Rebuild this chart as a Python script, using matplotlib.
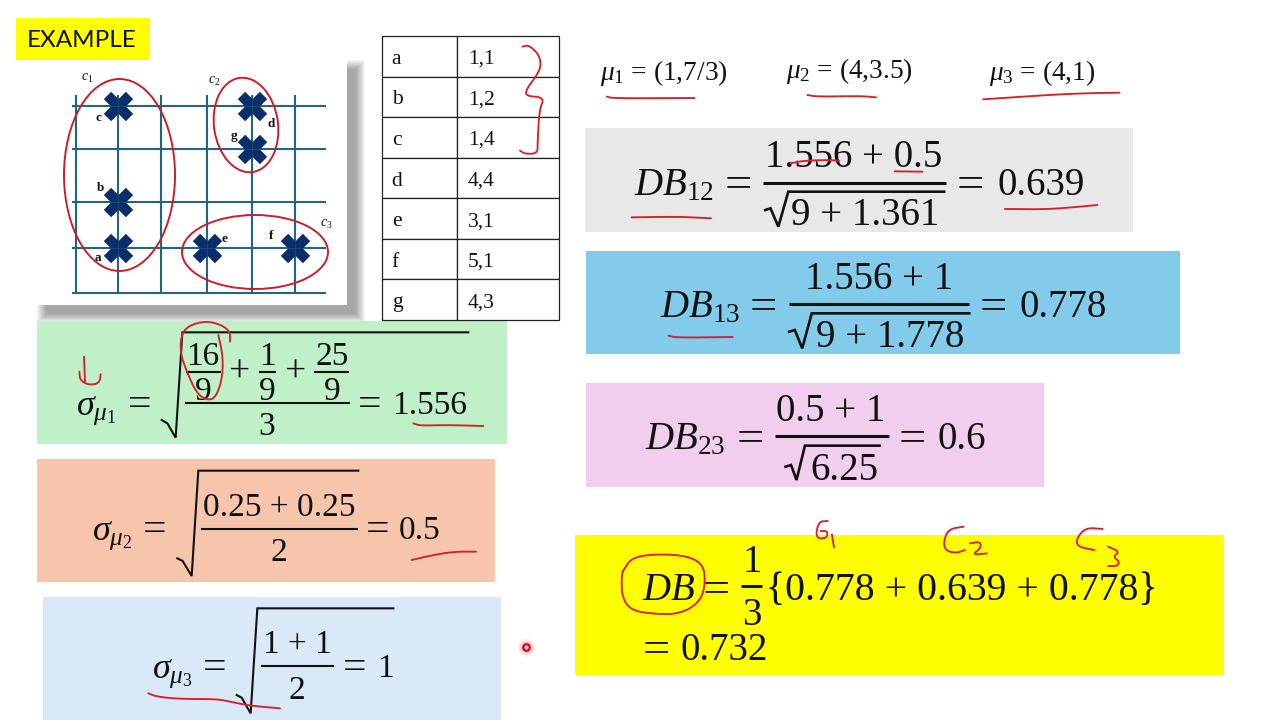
import numpy as np
import matplotlib
matplotlib.use("Agg")
import matplotlib.pyplot as plt
from matplotlib.patches import Rectangle, Ellipse
from matplotlib.transforms import Affine2D

# ---------- data ----------
point_names = ["a", "b", "c", "d", "e", "f", "g"]
point_x = [1, 1, 1, 4, 3, 5, 4]
point_y = [1, 2, 4, 4, 1, 1, 3]
table_coords = ["1,1", "1,2", "1,4", "4,4", "3,1", "5,1", "4,3"]
grid_x = [0, 1, 2, 3, 4, 5]
grid_y = [0, 1, 2, 3, 4]
cluster_labels = ["$c_1$", "$c_2$", "$c_3$"]
sigma_values = ["1.556", "0.5", "1"]
db_12 = "0.639"
db_13 = "0.778"
db_23 = "0.6"
db_total = "0.732"
mean_labels = [r"$\mu_1$ = (1,7/3)", r"$\mu_2$ = (4,3.5)", r"$\mu_3$ = (4,1)"]

# ---------- style ----------
plt.rcParams["font.family"] = ["Liberation Serif", "DejaVu Sans"]
plt.rcParams["mathtext.fontset"] = "custom"
plt.rcParams["mathtext.rm"] = "Liberation Serif"
plt.rcParams["mathtext.it"] = "Liberation Serif:italic"
plt.rcParams["mathtext.bf"] = "Liberation Serif:bold"
plt.rcParams["mathtext.fallback"] = "stix"

INK = "#D8202A"
TXT = "#111111"
W, H = 1280, 720

fig = plt.figure(figsize=(W / 100, H / 100), dpi=100, facecolor="white")


def px_axes(z, transparent=False):
    a = fig.add_axes([0, 0, 1, 1], zorder=z)
    a.set_xlim(0, W)
    a.set_ylim(H, 0)
    a.axis("off")
    if transparent:
        a.patch.set_alpha(0)
    return a


def place_axes(x0, y0, x1, y1, z):
    return fig.add_axes([x0 / W, 1 - y1 / H, (x1 - x0) / W, (y1 - y0) / H], zorder=z)


back = px_axes(0)
top = px_axes(5, True)

# card shadow (right and bottom only)
for i in range(10):
    p = 9 - i
    back.add_patch(Rectangle((37 + 9 - p, 60 + 9 - p), 310 + 2 * p, 245 + 2 * p,
                             fc="#000000", ec="none", alpha=0.04))

# coloured panels: x0, y0, x1, y1, colour
panels = [
    (16, 18, 150, 60, "#FFFF00"),
    (37, 321, 507, 444, "#C0F0C7"),
    (37, 459, 495, 582, "#F6C5AC"),
    (43, 597, 501, 720, "#DAE9F8"),
    (585, 128, 1133, 232, "#E8E8E8"),
    (586, 251, 1180, 354, "#83CBEB"),
    (586, 383, 1044, 487, "#F1CEEE"),
    (575, 535, 1224, 675, "#FFFF00"),
]
for x0, y0, x1, y1, c in panels:
    back.add_patch(Rectangle((x0, y0), x1 - x0, y1 - y0, fc=c, ec="none"))

back.text(27, 47, "EXAMPLE", family="Lato", fontsize=17.5, color=TXT, va="baseline", ha="left")

# ---------- scatter panel ----------
card = place_axes(37, 60, 347, 305, 2)
x_knots_d = [-0.92, 0, 1, 2, 3, 4, 5, 6.2]
x_knots_p = [0, 39, 81, 124, 170, 215, 258, 310]
y_knots_d = [-0.27, 0, 1, 2, 3, 4, 5.0]
y_knots_p = [0, 12, 57, 103, 156, 199, 245]
card.set_xscale("function", functions=(lambda v: np.interp(v, x_knots_d, x_knots_p),
                                       lambda v: np.interp(v, x_knots_p, x_knots_d)))
card.set_yscale("function", functions=(lambda v: np.interp(v, y_knots_d, y_knots_p),
                                       lambda v: np.interp(v, y_knots_p, y_knots_d)))
card.set_xlim(x_knots_d[0], x_knots_d[-1])
card.set_ylim(y_knots_d[0], y_knots_d[-1])
card.axis("off")
card.add_patch(Rectangle((0, 0), 1, 1, transform=card.transAxes, fc="white", ec="none", zorder=0))
GRID = "#1F6685"
for gx in grid_x:
    card.plot([gx, gx], [0, 4.25], color=GRID, lw=1.5, zorder=1, solid_capstyle="butt")
for gy in grid_y:
    card.plot([-0.1, 5.72], [gy, gy], color=GRID, lw=1.5, zorder=1, solid_capstyle="butt")
card.scatter(point_x, point_y, marker="X", s=450, color="#0B2E6B", linewidths=0, zorder=2)
card.scatter(point_x, point_y, marker="+", s=200, color=GRID, linewidths=0.6, alpha=0.5, zorder=3)
label_offsets = [(-20, -10), (-18, 14), (-20, -12), (19, -18), (18, 9), (-24, 12), (-18, 13)]
for n, x, y, off in zip(point_names, point_x, point_y, label_offsets):
    card.annotate(n, (x, y), xytext=(off[0] / 1.39, off[1] / 1.39), textcoords="offset points",
                  ha="center", va="center", fontsize=9.5, fontweight="bold", color=TXT, zorder=4)

# ---------- coordinates table ----------
tab_ax = place_axes(382, 36, 559, 320, 2)
tab_ax.axis("off")
tbl = tab_ax.table(cellText=[[n, c] for n, c in zip(point_names, table_coords)],
                   colWidths=[75 / 177, 102 / 177], bbox=[0, 0, 1, 1], cellLoc="left")
tbl.auto_set_font_size(False)
tbl.set_fontsize(15.5)
for (r, c), cell in tbl.get_celld().items():
    cell.set_linewidth(0.9)
    cell.set_edgecolor("#222222")
    cell.PAD = 0.13 if c == 0 else 0.105
    cell.get_text().set_color(TXT)
    cell.get_text().set_transform(Affine2D().translate(0, -3))


# ---------- equation helpers ----------
def t(x, y, s, fs, ha="center"):
    back.text(x, y + fs * 0.07, s, fontsize=fs, ha=ha, va="baseline", color=TXT)


def eq(x, y, fs):
    back.text(x, y + fs * 0.17, "=", fontsize=fs * 1.25, ha="center", va="baseline", color=TXT)


def bar(x0, x1, y, lw=1.5):
    back.plot([x0, x1], [y, y], color=TXT, lw=lw, solid_capstyle="butt")


def root(pts, lw=1.5):
    xs, ys = zip(*pts)
    back.plot(xs, ys, color=TXT, lw=lw, solid_joinstyle="miter")


def zoom_a(pts):
    return [(30 + x / 3, 315 + y / 3) for x, y in pts]


def zoom_b(pts):
    return [(570 + x / 2.304, 40 + y / 3) for x, y in pts]


def zoom_c(pts):
    return [(570 + x / 2.375, 375 + y / 3) for x, y in pts]


def zoom_d(pts):
    return [(20 + x / 2.85, 10 + y / 3) for x, y in pts]


FS = 24
# sigma 1
t(76, 413, r"$\sigma_{\mu_1}$", FS + 2, "left")
eq(140, 412, FS)
t(203, 363, "16", FS); bar(186, 221, 372); t(203, 398, "9", FS)
t(239, 380, "+", FS + 3)
t(267, 363, "1", FS); bar(259, 276, 372); t(267, 398, "9", FS)
t(295, 380, "+", FS + 3)
t(332, 363, "25", FS); bar(314, 349, 372); t(332, 398, "9", FS)
bar(185, 350, 403)
t(267, 433, "3", FS)
eq(370, 412, FS)
t(430, 412, sigma_values[0], FS)
root(zoom_a([(395, 315), (412, 325), (437, 368), (457, 52), (1315, 52)]))
# sigma 2
t(92, 538, r"$\sigma_{\mu_2}$", FS + 2, "left")
eq(155, 537, FS)
t(279, 514, "0.25 + 0.25", FS); bar(201, 358, 529); t(279, 559, "2", FS)
eq(378, 537, FS)
t(420, 537, sigma_values[1], FS)
root(zoom_a([(442, 730), (458, 738), (485, 783), (505, 467), (985, 467)]))
# sigma 3
t(152, 676, r"$\sigma_{\mu_3}$", FS + 2, "left")
eq(215, 675, FS)
t(297, 651, "1 + 1", FS); bar(261, 334, 666); t(297, 697, "2", FS)
eq(355, 675, FS)
t(385, 675, sigma_values[2], FS)
root(zoom_a([(620, 1140), (635, 1148), (662, 1195), (682, 880), (1090, 880)]))

# means
for (mx, my), lab in zip([(600, 79), (786, 77), (989, 79)], mean_labels):
    t(mx, my, lab, 19.7, "left")

FB = 28
# DB12
t(634, 193, r"$DB_{12}$", FB, "left")
eq(738, 193, FB)
t(854, 165, "1.556 + 0.5", FB); bar(763, 946, 183, 2.2)
t(865, 223, "9 + 1.361", FB)
root(zoom_b([(450, 510), (462, 505), (480, 560), (503, 455), (862, 455)]), 1.9)
eq(970, 193, FB)
t(1041, 193, db_12, FB)
# DB13
t(660, 315, r"$DB_{13}$", FB, "left")
eq(763, 315, FB)
t(879, 287, "1.556 + 1", FB); bar(789, 969, 304, 2.2)
t(890, 345, "9 + 1.778", FB)
root(zoom_b([(505, 875), (518, 870), (535, 925), (557, 820), (920, 820)]), 1.9)
eq(993, 315, FB)
t(1063, 315, db_13, FB)
# DB23
t(645, 447, r"$DB_{23}$", FB, "left")
eq(750, 447, FB)
t(831, 419, "0.5 + 1", FB); bar(775, 889, 436, 2.2)
t(844, 478, "6.25", FB)
root(zoom_c([(512, 275), (525, 270), (538, 315), (558, 212), (735, 212)]), 1.9)
eq(912, 447, FB)
t(962, 447, db_23, FB)
# DB total
t(642, 598, r"$DB$", FB, "left")
eq(716, 598, FB)
t(752, 570, "1", FB); bar(741, 762, 586, 2.2); t(752, 623, "3", FB)
t(962, 598, "{" + " + ".join([db_13, db_12, db_13]) + "}", FB + 0.6)
eq(656, 658, FB)
t(724, 658, db_total, FB)


# ---------- handwritten red ink ----------
def smooth(pts, n=2):
    p = np.array(pts, float)
    for _ in range(n):
        q = 0.75 * p[:-1] + 0.25 * p[1:]
        r = 0.25 * p[:-1] + 0.75 * p[1:]
        m = np.empty((2 * len(q), 2))
        m[0::2], m[1::2] = q, r
        p = np.vstack([p[0], m, p[-1]])
    return p


def ink(pts, lw=1.35):
    p = smooth(pts)
    top.plot(p[:, 0], p[:, 1], color=INK, lw=lw, solid_capstyle="round", solid_joinstyle="round")


# cluster ellipses
for c, w, h, ang in [((119.5, 175), 111, 192, 0), ((246, 125), 64, 95, -8), ((255, 252), 146, 74, 0)]:
    top.add_patch(Ellipse(c, w, h, angle=ang, fc="none", ec="#C8202A", lw=1.4))
for (cx, cy), lab in zip([(87, 78), (214, 81), (326, 224)], cluster_labels):
    top.text(cx, cy, lab, fontsize=10, ha="center", va="center", color=TXT)

ink(zoom_d([(1432, 110), (1450, 105), (1480, 135), (1485, 170), (1470, 200), (1445, 235), (1440, 258),
            (1495, 262), (1480, 300), (1475, 400), (1475, 430), (1440, 432), (1425, 422)]))
ink(zoom_a([(162, 125), (165, 200)]))
ink(zoom_a([(148, 170), (150, 195), (175, 210), (208, 205), (212, 178)]))
ink(zoom_a([(600, 80), (600, 50), (575, 30), (530, 18), (480, 30), (455, 55), (450, 110), (470, 170),
            (500, 235), (530, 255), (555, 250), (575, 200), (580, 130), (565, 60)]))
ink(zoom_a([(1150, 325), (1170, 332), (1250, 330), (1360, 333)]))
ink(zoom_a([(1145, 735), (1200, 722), (1270, 710), (1338, 710)]))
ink(zoom_a([(355, 1135), (380, 1145), (450, 1152), (560, 1152), (600, 1160), (660, 1172), (750, 1180)]))
ink(zoom_b([(85, 170), (100, 175), (287, 174)]))
ink(zoom_b([(547, 165), (570, 170), (670, 168), (705, 172)]))
ink(zoom_b([(952, 178), (1100, 165), (1180, 160), (1266, 158)]))
ink(zoom_b([(508, 370), (540, 362), (590, 360), (620, 362)]))
ink(zoom_b([(748, 394), (812, 395)]))
ink(zoom_b([(142, 532), (250, 530), (325, 535)]))
ink(zoom_b([(1002, 507), (1100, 508), (1175, 500), (1215, 495)]))
ink(zoom_b([(227, 887), (245, 893), (375, 891)]))
ink(zoom_c([(612, 438), (590, 440), (583, 490), (610, 490), (612, 468), (595, 468)]))
ink(zoom_c([(622, 478), (627, 517)]))
ink(zoom_c([(935, 455), (900, 462), (888, 495), (890, 525), (915, 535), (938, 525)]))
ink(zoom_c([(950, 505), (975, 500), (975, 520), (955, 540), (990, 535)]))
ink(zoom_c([(1265, 462), (1225, 458), (1203, 490), (1205, 515), (1245, 525)]))
ink(zoom_c([(1278, 515), (1305, 530), (1290, 545), (1305, 560), (1300, 573), (1278, 573)]))
ink(zoom_c([(125, 590), (145, 550), (190, 538), (270, 540), (315, 565), (322, 620), (310, 680),
            (260, 718), (190, 716), (145, 705), (125, 670), (122, 620), (125, 590)]))

# laser pointer
for s, a in [(170, 0.06), (110, 0.10), (65, 0.14)]:
    top.scatter([526], [647], s=s, color="#F02030", alpha=a, linewidths=0)
top.scatter([526], [647], s=22, facecolor="#F6C0C0", edgecolor="#D01020", linewidths=1.6)

fig.savefig("out.png", dpi=100)
